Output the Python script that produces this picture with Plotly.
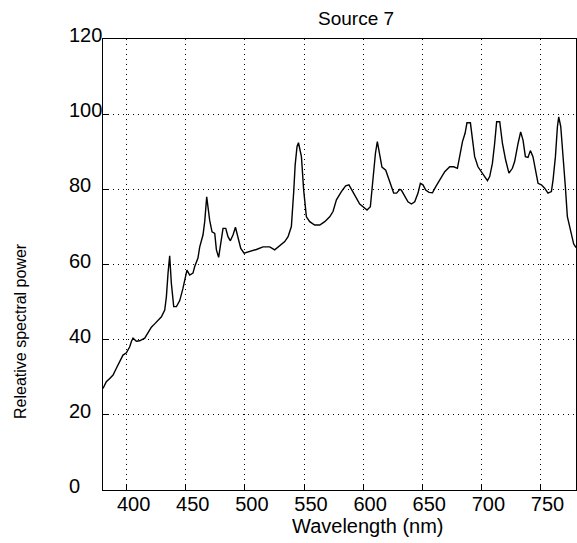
import plotly.graph_objects as go

wavelength = [380, 382.8, 385.7, 388.5, 391.3, 394.1, 396.9, 399.8, 402.6, 404, 405.4, 408.2, 411, 415.3,
              418.1, 420.9, 423.7, 426.5, 429.4, 432.2, 433.6, 435, 436.4, 437.8, 439.8, 442.1, 444.9, 447.5,
              449.5, 451, 453.3, 456.1, 457.5, 460.3, 461.8, 464.6, 466, 467.7, 470.2, 472.2, 474.5, 475.9,
              477.8, 479.5, 481.5, 483.8, 485.7, 487.7, 490, 492, 494.2, 496.5, 499.3, 504.1, 509.7, 515.3,
              521, 525.2, 529.4, 533.7, 536.5, 539.3, 541.3, 542.5, 544.1, 545.3, 547.8, 549.7, 552, 554.8,
              559, 563.3, 567.5, 571.7, 574.5, 577.4, 581.6, 585.2, 588, 590.9, 593.7, 597.1, 599.9, 603.3,
              606.1, 608.3, 610.4, 612, 614, 615.9, 619.1, 621.6, 623.9, 625.8, 628.3, 631, 632.3, 635.1,
              637.9, 640.8, 643.6, 646.4, 648.4, 650.6, 652.9, 655.7, 658.6, 661.4, 664.7, 669, 673.2, 676.6,
              679.7, 681.6, 684, 686.2, 687.8, 690.7, 692.4, 694.3, 697.1, 700, 702.8, 705.1, 707, 709.3,
              711.2, 712.9, 715.5, 717.8, 720.5, 723.3, 726.2, 728.1, 731, 733.2, 735.2, 737.2, 739.4, 741.4,
              743.6, 746, 747.9, 750.7, 753.5, 756.3, 759.2, 760.6, 762.6, 764.3, 765.4, 767.1, 769, 771,
              772.7, 774.7, 776.5, 778, 780]
power = [27.0, 28.8, 29.7, 30.6, 32.4, 34.1, 35.9, 36.5, 38.1, 39.5, 40.4, 39.6, 39.7, 40.4,
         41.7, 43.3, 44.2, 45.2, 46.1, 47.9, 51.4, 57.7, 62.3, 55.0, 48.8, 48.8, 50.4, 53.5,
         56.5, 58.5, 57.2, 57.7, 59.4, 61.7, 64.7, 67.9, 71.4, 78.0, 71.8, 68.7, 68.3, 63.9,
         61.9, 65.6, 69.6, 69.6, 67.4, 66.3, 67.9, 69.9, 67.0, 64.3, 63.0, 63.4, 64.0, 64.7,
         64.7, 63.9, 64.9, 66.1, 67.4, 70.1, 79.5, 86.5, 91.4, 92.4, 88.7, 79.8, 72.7, 71.4,
         70.5, 70.5, 71.4, 72.7, 74.1, 77.2, 79.4, 80.9, 81.2, 79.4, 78.0, 76.1, 75.4, 74.5,
         75.4, 82.5, 89.6, 92.7, 89.1, 85.9, 85.1, 82.9, 80.3, 79.0, 79.0, 80.0, 79.8, 78.2,
         76.7, 76.1, 76.7, 79.0, 81.6, 81.2, 79.8, 79.2, 79.1, 80.7, 82.5, 84.7, 86.0, 86.0,
         85.6, 88.7, 92.7, 94.9, 97.7, 97.7, 94.0, 88.7, 86.0, 84.7, 83.2, 82.3, 83.4, 86.9,
         92.2, 98.0, 98.0, 92.2, 87.8, 84.3, 85.6, 87.4, 92.2, 95.3, 93.1, 88.7, 88.5, 90.3,
         88.7, 85.2, 81.6, 81.2, 80.3, 79.0, 79.4, 82.5, 88.7, 96.7, 99.3, 96.7, 89.6, 80.7,
         72.7, 70.0, 68.0, 65.5, 64.5]

x_ticks = [400, 450, 500, 550, 600, 650, 700, 750]
y_ticks = [0, 20, 40, 60, 80, 100, 120]
title_text = "Source 7"
x_title = "Wavelength (nm)"
y_title = "Releative spectral power"

W, H = 577, 543
L, R, T, B = 103, 1, 39, 53
pw, ph = W - L - R, H - T - B
FONT = "Liberation Sans, Arial, sans-serif"

fig = go.Figure()
fig.add_trace(go.Scatter(x=wavelength, y=power, mode="lines",
                         line=dict(color="black", width=1.4), showlegend=False))

axis_common = dict(showline=True, linecolor="black", linewidth=1.2, mirror=True,
                   showgrid=True, gridcolor="black", griddash="1px,4px", gridwidth=1.2,
                   zeroline=False, ticks="inside", ticklen=5, tickcolor="black")

fig.update_xaxes(range=[380, 780], tickvals=x_ticks, ticktext=[str(v) for v in x_ticks],
                 tickfont=dict(family=FONT, size=20, color="black"),
                 ticklabelshift=7, ticklabelstandoff=-4, **axis_common)
fig.update_yaxes(range=[0, 120], tickvals=y_ticks, showticklabels=False, **axis_common)

annotations = []
for v in y_ticks:
    annotations.append(dict(x=(67 - L) / pw, xref="paper", y=v, yref="y", text=str(v),
                            showarrow=False, xanchor="left", yanchor="middle", yshift=4,
                            font=dict(family=FONT, size=20, color="black")))
annotations.append(dict(x=(368 - L) / pw, xref="paper", y=(H - B - 526) / ph, yref="paper",
                        text=x_title, showarrow=False, xanchor="center", yanchor="middle",
                        font=dict(family=FONT, size=20, color="black")))
annotations.append(dict(x=(20 - L) / pw, xref="paper", y=(H - B - 331) / ph, yref="paper",
                        text=y_title, textangle=-90, showarrow=False, xanchor="center",
                        yanchor="middle", font=dict(family=FONT, size=16, color="black")))
annotations.append(dict(x=(356 - L) / pw, xref="paper", y=(H - B - 19) / ph, yref="paper",
                        text=title_text, showarrow=False, xanchor="center", yanchor="middle",
                        font=dict(family=FONT, size=19, color="black")))

fig.update_layout(width=W, height=H, margin=dict(l=L, r=R, t=T, b=B),
                  paper_bgcolor="white", plot_bgcolor="white",
                  annotations=annotations, font=dict(family=FONT, color="black"))

fig.write_html("out.html")
